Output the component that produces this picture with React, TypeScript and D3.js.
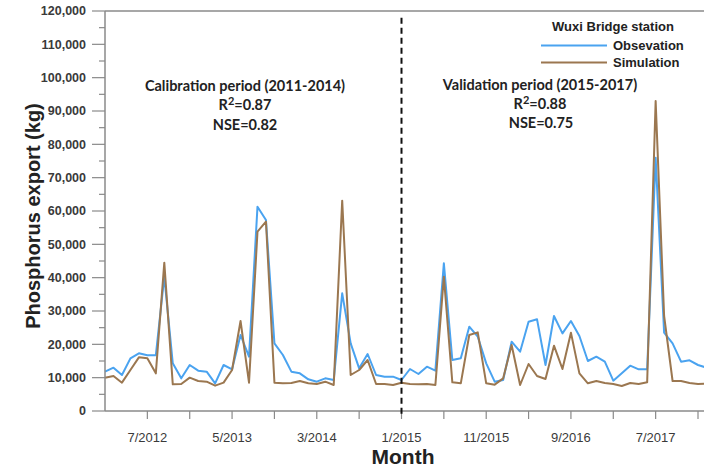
import React from "react";
import * as d3 from "d3";

// Monthly phosphorus export at Wuxi Bridge station, Feb 2012 onward (kg)
const observation = [
  11800, 13000, 10800, 15800, 17300, 16700, 16700, 40300, 14300, 9800, 13800, 12100,
  11800, 8300, 13800, 12500, 22800, 16300, 61300, 57300, 20300, 16800, 11800, 11300,
  9500, 8800, 9800, 9300, 35300, 20300, 12800, 17100, 10800, 10300, 10300, 9300,
  12600, 11100, 13300, 12100, 44300, 15300, 15800, 25300, 22300, 14300, 8800, 9300,
  20800, 17800, 26800, 27500, 13800, 28500, 23300, 27000, 22500, 15000, 16300, 14800,
  9100, 11300, 13600, 12500, 12500, 76000, 23500, 20300, 14800, 15200, 13800, 13000,
];
const simulation = [
  10000, 10500, 8500, 12300, 16100, 15800, 11300, 44500, 8000, 8100, 10000, 9000,
  8800, 7600, 8500, 12300, 27000, 8500, 53800, 56800, 8500, 8300, 8400, 9000,
  8300, 8100, 8800, 7800, 63100, 10800, 12300, 15300, 8100, 8100, 7800, 8500,
  8100, 8000, 8100, 7800, 40300, 8600, 8300, 22800, 23600, 8300, 7900, 9800,
  19800, 7800, 14100, 10500, 9600, 19600, 12600, 23500, 11300, 8300, 9000, 8400,
  8100, 7500, 8400, 8100, 8600, 93000, 28500, 9000, 9000, 8400, 8100, 8200,
];
const tickLabels = ["7/2012", "5/2013", "3/2014", "1/2015", "11/2015", "9/2016", "7/2017"];
const yTicks = d3.range(0, 120001, 10000);
const yMinorTicks = d3.range(5000, 120000, 10000);
const splitMonth = "1/2015";

// month index counted from Feb 2012
const monthIndex = (s: string) => {
  const [m, y] = s.split("/").map(Number);
  return (y - 2012) * 12 + (m - 2);
};

const W = 704;
const H = 468;
const OBS = "#4aa3f0";
const SIM = "#9b7750";
const AXIS = "#8a8a8a";
const TXT = "#3a3a3a";

export default function App() {
  const x = d3.scaleLinear().domain([0, 35]).range([105, 401.5]);
  const y = d3.scaleLinear().domain([0, 120000]).range([411, 11]);
  const line = d3
    .line<number>()
    .x((_, i) => x(i))
    .y((d) => y(d));
  const xMinor = d3.range(5, observation.length, 5);
  const x0 = x(0);
  const y0 = y(0);
  const xs = x(monthIndex(splitMonth));

  return (
    <svg
      width={W}
      height={H}
      style={{ position: "absolute", left: 0, top: 0, background: "#fff" }}
      fontFamily="'Liberation Sans', Arial, sans-serif"
    >
      <rect width={W} height={H} fill="#fff" />
      {/* top frame */}
      <line x1={x0} x2={W} y1={y(120000)} y2={y(120000)} stroke={AXIS} strokeWidth={1.5} />

      <path d={line(observation) ?? ""} fill="none" stroke={OBS} strokeWidth={2} strokeLinejoin="round" />
      <path d={line(simulation) ?? ""} fill="none" stroke={SIM} strokeWidth={2} strokeLinejoin="round" />

      {/* y axis */}
      <line x1={x0} x2={x0} y1={y(120000)} y2={y0} stroke={AXIS} strokeWidth={1.5} />
      {yTicks.map((t) => (
        <g key={t}>
          <line x1={x0 - 13} x2={x0} y1={y(t)} y2={y(t)} stroke={AXIS} strokeWidth={1.2} />
          <text
            x={x0 - 19}
            y={y(t)}
            dy="0.35em"
            textAnchor="end"
            fontSize={12.5}
            fontWeight="bold"
            fill={TXT}
          >
            {d3.format(",")(t)}
          </text>
        </g>
      ))}
      {yMinorTicks.map((t) => (
        <line key={t} x1={x0 - 6} x2={x0} y1={y(t)} y2={y(t)} stroke={AXIS} strokeWidth={1.2} />
      ))}

      {/* x axis */}
      <line x1={x0} x2={W} y1={y0} y2={y0} stroke={AXIS} strokeWidth={1.5} />
      {xMinor.map((i) => (
        <line key={i} x1={x(i)} x2={x(i)} y1={y0} y2={y0 + 8} stroke={AXIS} strokeWidth={1.2} />
      ))}
      {tickLabels.map((l) => (
        <text key={l} x={x(monthIndex(l))} y={y0 + 31} textAnchor="middle" fontSize={13} fill={TXT}>
          {l}
        </text>
      ))}

      {/* period split */}
      <line
        x1={xs}
        x2={xs}
        y1={y(118000)}
        y2={y0 + 6}
        stroke="#111"
        strokeWidth={2}
        strokeDasharray="6,4"
      />

      {/* axis titles */}
      <text x={403} y={464} textAnchor="middle" fontSize={21} fontWeight="bold" fill="#222">
        Month
      </text>
      <text
        transform={`translate(40,216) rotate(-90)`}
        textAnchor="middle"
        fontSize={20}
        fontWeight="bold"
        fill="#222"
      >
        Phosphorus export (kg)
      </text>

      {/* period annotations */}
      <g fontFamily="Lato, 'Open Sans', sans-serif" fontWeight="bold" fontSize={14.5} fill="#222" textAnchor="middle">
        <text x={245} y={91}>Calibration period (2011-2014)</text>
        <text x={245} y={110}>
          R<tspan dy={-5} fontSize={11}>2</tspan>
          <tspan dy={5}>=0.87</tspan>
        </text>
        <text x={245} y={130}>NSE=0.82</text>
        <text x={540} y={90}>Validation period (2015-2017)</text>
        <text x={540} y={109}>
          R<tspan dy={-5} fontSize={11}>2</tspan>
          <tspan dy={5}>=0.88</tspan>
        </text>
        <text x={541} y={128}>NSE=0.75</text>
      </g>

      {/* legend */}
      <g fontWeight="bold" fontSize={13} fill="#222">
        <text x={613} y={31} textAnchor="middle">Wuxi Bridge station</text>
        <line x1={541} x2={607} y1={45.5} y2={45.5} stroke={OBS} strokeWidth={2} />
        <text x={613} y={45.5} dy="0.35em">Obsevation</text>
        <line x1={541} x2={607} y1={62.5} y2={62.5} stroke={SIM} strokeWidth={2} />
        <text x={613} y={62.5} dy="0.35em">Simulation</text>
      </g>
    </svg>
  );
}
